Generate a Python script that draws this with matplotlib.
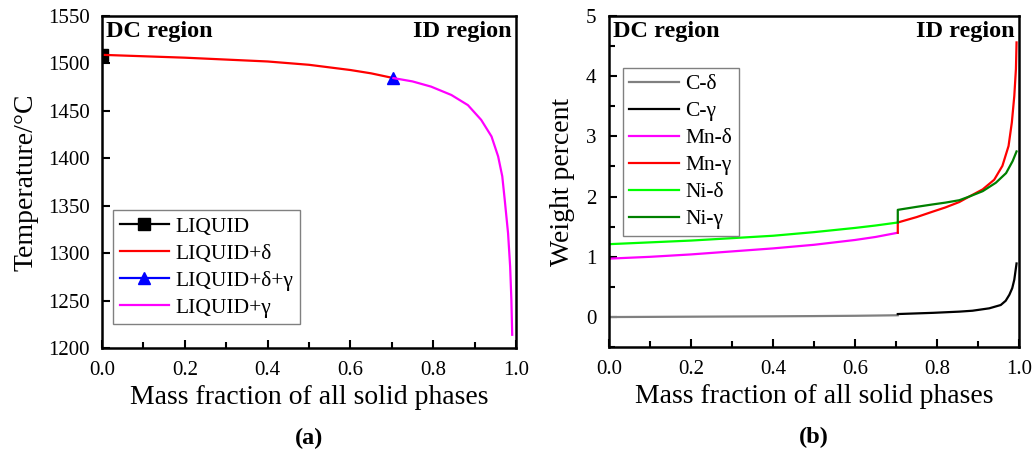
import matplotlib.pyplot as plt
from matplotlib.ticker import MultipleLocator

plt.rcParams['font.family'] = ['Liberation Serif', 'DejaVu Serif']

# (a) temperature vs mass fraction of solid
liq_x = [0.0, 0.0]
liq_t = [1512, 1509]

d_x = [0.0, 0.1, 0.2, 0.3, 0.4, 0.5, 0.6, 0.65, 0.704]
d_t = [1509, 1507.5, 1506, 1504, 1502, 1498.5, 1493, 1489.5, 1484.5]

dg_x = [0.704]
dg_t = [1484.5]

g_x = [0.704, 0.75, 0.795, 0.844, 0.884, 0.916, 0.941, 0.957, 0.967, 0.973,
       0.981, 0.986, 0.989, 0.991]
g_t = [1484.5, 1481, 1475.5, 1466.7, 1456, 1440.5, 1423, 1402, 1381, 1356,
       1321, 1286, 1251, 1214]

# (b) weight percent in solid phases
fs_delta = [0.0, 0.1, 0.2, 0.3, 0.4, 0.5, 0.6, 0.65, 0.704]
c_delta = [0.0, 0.003, 0.006, 0.009, 0.012, 0.016, 0.021, 0.025, 0.03]
mn_delta = [0.97, 1.0, 1.04, 1.09, 1.14, 1.20, 1.28, 1.33, 1.40]
ni_delta = [1.21, 1.24, 1.27, 1.31, 1.35, 1.41, 1.48, 1.52, 1.57]

fs_c_gamma = [0.704, 0.79, 0.854, 0.886, 0.927, 0.955, 0.967, 0.976, 0.983, 0.988, 0.9935]
c_gamma = [0.05, 0.07, 0.09, 0.105, 0.145, 0.20, 0.27, 0.37, 0.48, 0.62, 0.89]

fs_mn_gamma = [0.704, 0.75, 0.789, 0.82, 0.854, 0.878, 0.911, 0.939, 0.959, 0.974,
               0.982, 0.988, 0.992, 0.9935]
mn_gamma = [1.57, 1.66, 1.75, 1.82, 1.91, 2.0, 2.12, 2.28, 2.51, 2.84,
            3.23, 3.67, 4.12, 4.56]

fs_ni_gamma = [0.704, 0.75, 0.789, 0.82, 0.854, 0.878, 0.911, 0.943, 0.968, 0.984, 0.9935]
ni_gamma = [1.78, 1.83, 1.87, 1.90, 1.94, 2.0, 2.09, 2.23, 2.39, 2.59, 2.75]

fig = plt.figure(figsize=(10.36, 4.55), dpi=100)
ax1 = fig.add_axes([0.0985, 0.235, 0.3995, 0.730])
ax2 = fig.add_axes([0.5878, 0.237, 0.3960, 0.728])

lw = 1.6
ax1.plot(liq_x, liq_t, '-s', color='black', lw=lw, ms=8, markevery=[1], label='LIQUID')
ax1.plot(d_x, d_t, '-', color='red', lw=lw, label='LIQUID+δ')
ax1.plot(dg_x, dg_t, '-^', color='blue', lw=lw, ms=9, label='LIQUID+δ+γ')
ax1.plot(g_x, g_t, '-', color='magenta', lw=lw, label='LIQUID+γ')
ax1.set_xlim(0, 1.0)
ax1.set_ylim(1200, 1550)
ax1.xaxis.set_major_locator(MultipleLocator(0.2))
ax1.xaxis.set_minor_locator(MultipleLocator(0.1))
ax1.yaxis.set_major_locator(MultipleLocator(50))
ax1.set_xlabel('Mass fraction of all solid phases', fontsize=20, labelpad=4)
ax1.set_ylabel('Temperature/°C', fontsize=20, labelpad=7)
ax1.legend(loc='lower left', bbox_to_anchor=(0.027, 0.072), borderaxespad=0,
           fontsize=15.5, fancybox=False, framealpha=1, edgecolor='gray',
           handlelength=2.3, handletextpad=0.3, labelspacing=0.32, borderpad=0.3)

ax2.plot(fs_delta, c_delta, color='gray', lw=lw, label='C-δ')
ax2.plot(fs_c_gamma, c_gamma, color='black', lw=lw, label='C-γ')
ax2.plot(fs_delta, mn_delta, color='magenta', lw=lw, label='Mn-δ')
ax2.plot([fs_delta[-1]] + fs_mn_gamma, [mn_delta[-1]] + mn_gamma, color='red', lw=lw, label='Mn-γ')
ax2.plot(fs_delta, ni_delta, color='lime', lw=lw, label='Ni-δ')
ax2.plot([fs_delta[-1]] + fs_ni_gamma, [ni_delta[-1]] + ni_gamma, color='green', lw=lw, label='Ni-γ')
ax2.set_xlim(0, 1.0)
ax2.set_ylim(-0.5, 5)
ax2.xaxis.set_major_locator(MultipleLocator(0.2))
ax2.xaxis.set_minor_locator(MultipleLocator(0.1))
ax2.yaxis.set_major_locator(MultipleLocator(1))
ax2.yaxis.set_minor_locator(MultipleLocator(0.5))
ax2.set_xlabel('Mass fraction of all solid phases', fontsize=20, labelpad=4)
ax2.set_ylabel('Weight percent', fontsize=20, labelpad=8)
ax2.legend(loc='upper left', bbox_to_anchor=(0.034, 0.843), borderaxespad=0,
           fontsize=15.5, fancybox=False, framealpha=1, edgecolor='gray',
           handlelength=2.3, handletextpad=0.3, labelspacing=0.32, borderpad=0.3)

for ax, tag in [(ax1, '(a)'), (ax2, '(b)')]:
    for s in ax.spines.values():
        s.set_linewidth(1.8)
    ax.tick_params(which='both', direction='in', width=1.5, labelsize=15, pad=9)
    ax.tick_params(which='major', length=6)
    ax.tick_params(which='minor', length=4)
    ax.text(0.01, 0.985, 'DC region', transform=ax.transAxes, ha='left', va='top',
            fontsize=17.5, fontweight='bold')
    ax.text(0.99, 0.985, 'ID region', transform=ax.transAxes, ha='right', va='top',
            fontsize=17.5, fontweight='bold')
    ax.text(0.5, -0.24, tag, transform=ax.transAxes, ha='center', va='top',
            fontsize=17.5, fontweight='bold')

fig.savefig('out.png', dpi=100)
